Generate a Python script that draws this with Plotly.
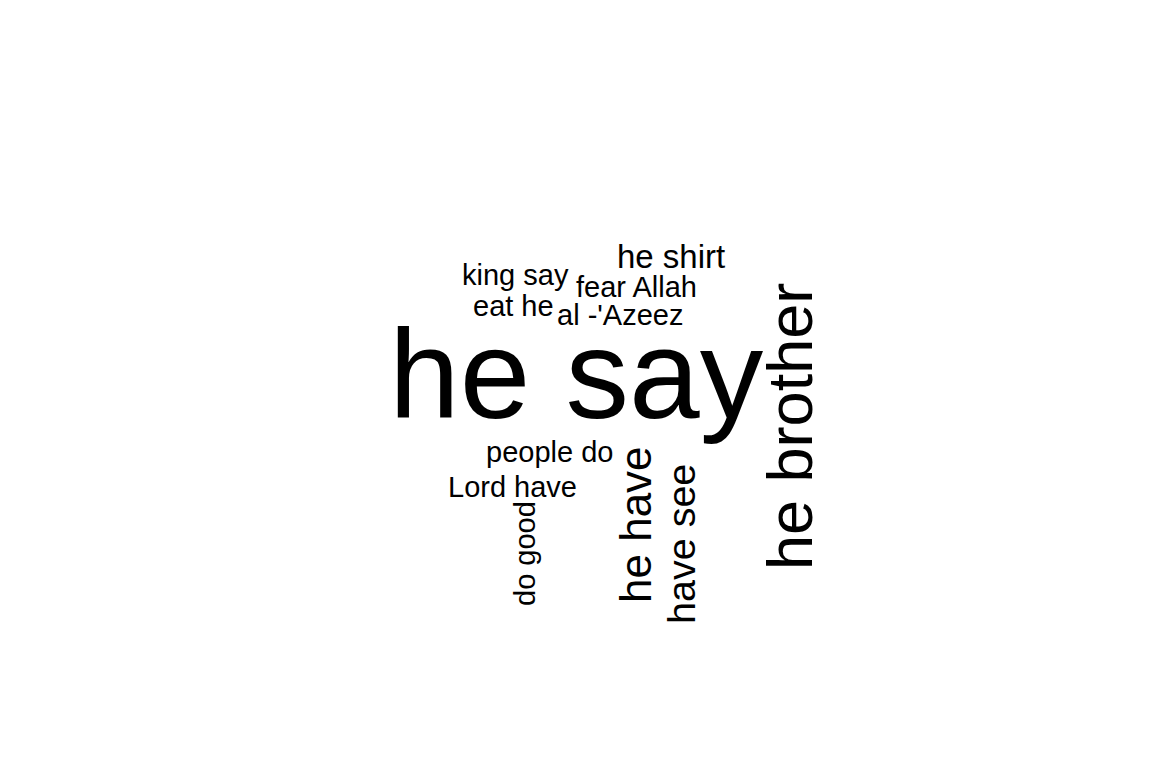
import plotly.graph_objects as go

# Word cloud data: phrase, frequency-driven font size, layout position, rotation
words = ["he say", "he brother", "he shirt", "king say", "fear Allah", "eat he",
         "al -'Azeez", "people do", "Lord have", "do good", "he have", "have see"]
font_sizes = [127, 63, 33, 29, 29, 29, 29, 29, 29, 29, 44, 39.5]
x_pos = [576, 790, 671, 515, 636, 513, 620, 549, 512, 525, 635, 681]
y_pos = [374, 427, 256, 275, 287, 306, 315, 452, 487, 554, 525, 544]
angles = [0, -90, 0, 0, 0, 0, 0, 0, 0, -90, -90, -90]

fig = go.Figure()
# invisible trace to set up axes
fig.add_trace(go.Scatter(x=[0, 1152], y=[0, 768], mode="markers",
                         marker=dict(opacity=0), hoverinfo="skip", showlegend=False))

for w, s, x, y, a in zip(words, font_sizes, x_pos, y_pos, angles):
    fig.add_annotation(x=x, y=y, xref="x", yref="y", text=w, showarrow=False,
                       textangle=a, xanchor="center", yanchor="middle",
                       font=dict(family="Liberation Sans, Arial, sans-serif",
                                 size=s, color="black"))

fig.update_layout(
    width=1152, height=768,
    margin=dict(l=0, r=0, t=0, b=0),
    paper_bgcolor="white", plot_bgcolor="white",
    xaxis=dict(range=[0, 1152], visible=False, fixedrange=True),
    yaxis=dict(range=[768, 0], visible=False, fixedrange=True),
    showlegend=False,
)

fig.write_html("out.html")
